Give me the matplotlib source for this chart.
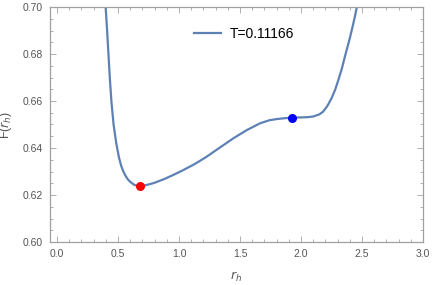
import matplotlib
matplotlib.use("Agg")
import matplotlib.pyplot as plt
from matplotlib.ticker import MultipleLocator

plt.rcParams['font.family'] = ['Liberation Sans', 'DejaVu Sans']

# curve
r_h = [0.399, 0.411, 0.422, 0.433, 0.446, 0.464, 0.486, 0.508, 0.526, 0.544,
       0.565, 0.585, 0.61, 0.634, 0.66, 0.686, 0.72, 0.76, 0.80, 0.88, 0.96,
       1.035, 1.13, 1.227, 1.33, 1.445, 1.555, 1.664, 1.74, 1.80, 1.87, 1.929,
       1.99, 2.05, 2.10, 2.15, 2.18, 2.215, 2.25, 2.28, 2.306, 2.335, 2.36,
       2.38, 2.40, 2.42, 2.44, 2.458]
F = [0.700, 0.690, 0.680, 0.670, 0.660, 0.650, 0.642, 0.636, 0.6325, 0.6300,
     0.6279, 0.6264, 0.6252, 0.6243, 0.6239, 0.6238, 0.6241, 0.6246, 0.6252,
     0.6268, 0.6287, 0.6306, 0.6332, 0.6363, 0.6400, 0.6441, 0.6476, 0.6505,
     0.6518, 0.6523, 0.6527, 0.6529, 0.6530, 0.6531, 0.6534, 0.6543, 0.6554,
     0.6578, 0.6611, 0.6648, 0.6689, 0.6738, 0.6789, 0.6828, 0.6867, 0.6910,
     0.6955, 0.700]
min_pt = (0.68, 0.6238)
infl_pt = (1.929, 0.6529)
label = "T=0.11166"

fig = plt.figure(figsize=(4.36, 2.85), dpi=100)
ax = fig.add_axes([50/436, 1-242/285, 373/436, 235/285])

ax.plot(r_h, F, color='#5E81B5', lw=1.6, label=label)
ax.plot(*min_pt, 'o', color='red', ms=5.5)
ax.plot(*infl_pt, 'o', color='blue', ms=5.5)

ax.set_xlim(-0.057, 3.0)
ax.set_ylim(0.60, 0.70)
ax.xaxis.set_major_locator(MultipleLocator(0.5))
ax.xaxis.set_minor_locator(MultipleLocator(0.1))
ax.yaxis.set_major_locator(MultipleLocator(0.02))
ax.yaxis.set_minor_locator(MultipleLocator(0.005))
ax.xaxis.set_major_formatter(plt.FormatStrFormatter('%.1f'))
ax.yaxis.set_major_formatter(plt.FormatStrFormatter('%.2f'))

ax.tick_params(which='both', direction='in', top=True, right=True,
               color='#b0b0b0', labelcolor='#555555', labelsize=7.5, width=0.7)
ax.tick_params(which='major', length=4.5, pad=5)
ax.tick_params(which='minor', length=2.5)
for s in ax.spines.values():
    s.set_color('#a0a0a0')
    s.set_linewidth(0.9)

ax.set_xlabel('$r_h$', color='#555555', fontsize=9, labelpad=8)
ax.set_ylabel('F($r_h$)', color='#555555', fontsize=9, labelpad=6)

ax.legend(loc='upper center', bbox_to_anchor=(0.52, 0.97), frameon=False,
          fontsize=10, handlelength=2.0, handletextpad=0.6)

fig.savefig('out.png', dpi=100)
